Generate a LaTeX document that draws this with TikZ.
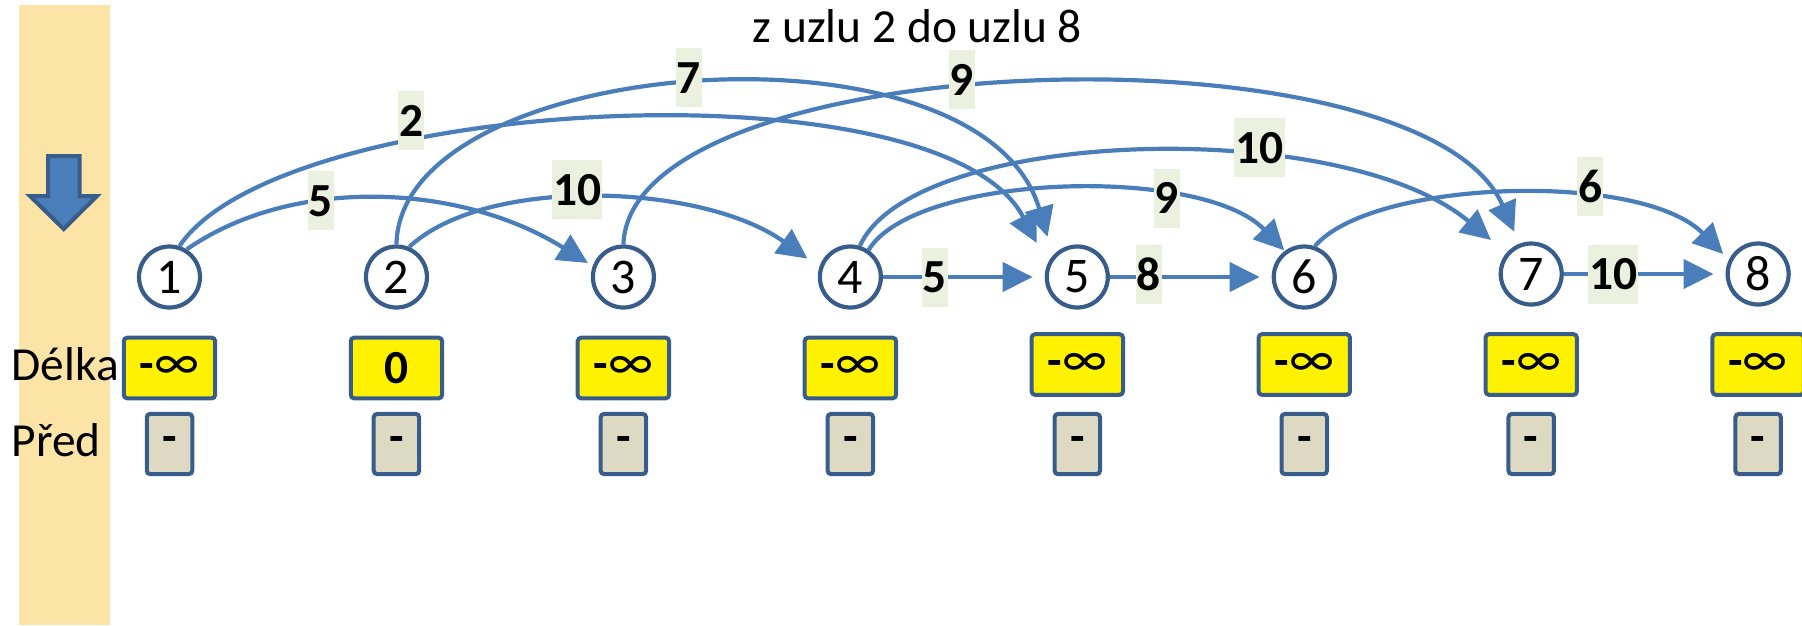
\documentclass[tikz,border=0pt]{standalone}
\usepackage{fontspec}
\setmainfont{Carlito}
\usetikzlibrary{arrows.meta,calc}
\definecolor{bandorange}{RGB}{252,228,166}
\definecolor{linkblue}{RGB}{74,126,187}
\definecolor{darkblue}{RGB}{56,93,138}
\definecolor{lblgreen}{RGB}{235,241,222}
\definecolor{predgray}{RGB}{221,217,195}
\newcommand{\neginf}{-{\mdseries\fontsize{15}{16}\selectfont ∞}}
\begin{document}
\begin{tikzpicture}[font=\fontsize{13.5}{16}\selectfont,
        vertex/.style={circle, draw=darkblue, line width=0.042cm, fill=white, minimum size=0.61cm, inner sep=0pt, font=\fontsize{14.2}{16}\selectfont},
        lenbox/.style={draw=darkblue, line width=0.04cm, fill=yellow, rounded corners=1pt, minimum width=0.914cm, minimum height=0.607cm, inner sep=0pt, font=\fontsize{13.5}{16}\selectfont\bfseries},
        predbox/.style={lenbox, fill=predgray, minimum width=0.455cm, minimum height=0.603cm},
        link/.style={draw=linkblue, line width=0.042cm, -{Triangle[length=0.3cm,width=0.29cm]}},
        wlbl/.style={fill=lblgreen, inner xsep=0.3pt, inner ysep=0pt, minimum height=0.59cm, font=\fontsize{13.5}{16}\selectfont\bfseries}]
        \def\dx{2.2695}

        \useasboundingbox (0,0) rectangle (18.02,6.25);
        \fill[bandorange] (0.19,0) rectangle (1.10,6.20);
        \draw[line width=0.04cm, draw=darkblue, fill=linkblue] (0.48,4.69) -- (0.797,4.69) -- (0.797,4.29) -- (0.97,4.29) -- (0.637,3.96) -- (0.30,4.29) -- (0.48,4.29) -- cycle;

        \node[anchor=base] (title) at (9.175,5.83) {z uzlu 2 do uzlu 8};
        \node[anchor=base west, inner sep=0pt] (delkatext) at (0.11,2.45) {Délka};
        \node[anchor=base west, inner sep=0pt] (predtext) at (0.11,1.69) {Před};

        \foreach \i/\ny/\by/\len in {1/3.48/2.57/\neginf, 2/3.48/2.57/0, 3/3.48/2.57/\neginf, 4/3.48/2.57/\neginf,
                5/3.48/2.605/\neginf, 6/3.48/2.605/\neginf, 7/3.51/2.605/\neginf, 8/3.51/2.605/\neginf} {
            \node[vertex] (n\i) at ({1.695+(\i-1)*\dx}, \ny) {\i};
            \node[lenbox] (len\i) at ({1.695+(\i-1)*\dx}, \by) {\len};
            \node[predbox] (pred\i) at ({1.695+(\i-1)*\dx}, 1.81) {-};
        }

        \draw[link] (n1.58) .. controls +(1.065,0.74) and +(-1.275,0.795) .. ($(n3)+(-0.355,0.14)$) node[wlbl,pos=.36] (w13) {5};
        \draw[link] (n1.72) .. controls +(1.00,1.50) and +(-0.96,1.83) .. ($(n5)+(-0.405,0.34)$) node[wlbl,pos=.32,yshift=0.2cm] (w15) {2};
        \draw[link] (n2.north) .. controls +(0.035,1.90) and +(-0.67,2.27) .. ($(n5)+(-0.298,0.403)$) node[wlbl,pos=.49,yshift=0.07cm] (w25) {7};
        \draw[link] (n2.67) .. controls +(0.765,0.717) and +(-1.047,0.753) .. ($(n4)+(-0.43,0.184)$) node[wlbl,pos=.455,yshift=0.075cm] (w24) {10};
        \draw[link] (n3.north) .. controls +(0.07,2.00) and +(-0.93,2.117) .. ($(n7)+(-0.17,0.423)$) node[wlbl,pos=.44,yshift=0.08cm] (w37) {9};
        \draw[link] (n4.73) .. controls +(0.536,1.183) and +(-1.498,1.25) .. ($(n7)+(-0.402,0.34)$) node[wlbl,pos=.65,yshift=0.1cm] (w47) {10};
        \draw[link] (n4.56) .. controls +(0.467,0.767) and +(-0.825,0.857) .. ($(n6)+(-0.20,0.266)$) node[wlbl,pos=.7] (w46) {9};
        \draw[link] (n6.71) .. controls +(0.568,0.667) and +(-0.82,0.835) .. ($(n8)+(-0.35,0.20)$) node[wlbl,pos=.66,yshift=0.135cm] (w68) {6};

        \draw[link, shorten >=0.12cm] (n4) -- node[wlbl,pos=.32] (w45) {5} (n5);
        \draw[link, shorten >=0.12cm] (n5) -- node[wlbl,pos=.24,yshift=0.03cm] (w56) {8} (n6);
        \draw[link, shorten >=0.12cm] (n7) -- node[wlbl,pos=.305] (w78) {10} (n8);
    \end{tikzpicture}
\end{document}
